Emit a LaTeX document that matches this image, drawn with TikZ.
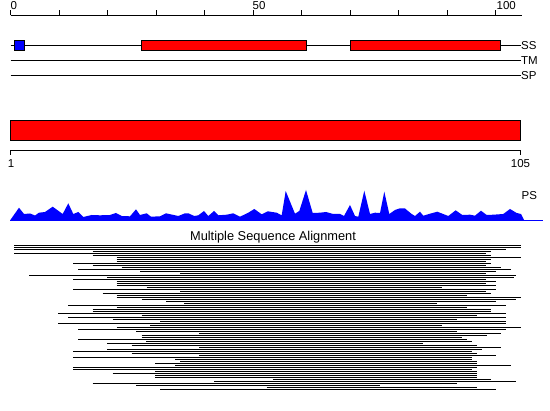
\documentclass[tikz,border=0pt]{standalone}
\usepackage{fontspec}
\setmainfont{Liberation Sans}
\begin{document}
\begin{tikzpicture}[x=1pt,y=-1pt,
  lbl/.style={font=\fontsize{11.5}{13}\selectfont, inner sep=0pt},
  ln/.style={line width=1pt, black},
  aln/.style={line width=1pt, black},
  featbox/.style={draw=black, line width=1pt}]
\useasboundingbox (0,0) rectangle (550,411);
\fill[white] (0,0) rectangle (550,411);

% top ruler
\draw[ln] (10.7,15.5) -- (521.7,15.5);
\foreach \i in {0,...,10} \draw[ln] ({10.7+48.5*\i},15.5) -- ({10.7+48.5*\i},10);
\node[lbl, anchor=base west] (t0) at (10.5,10) {0};
\node[lbl, anchor=base west] (t50) at (252.5,10) {50};
\node[lbl, anchor=base west] (t100) at (496.5,10) {100};

% SS / TM / SP tracks
\draw[ln] (10.7,45.5) -- (521,45.5);
\node[lbl, anchor=west] (ss) at (521,45.5) {SS};
\fill[blue, featbox] (14,40.5) rectangle (24.5,50.5);
\fill[red, featbox] (141.3,40.5) rectangle (306.7,50.5);
\fill[red, featbox] (350.3,40.5) rectangle (500.7,50.5);
\draw[ln] (10.7,60.5) -- (521,60.5);
\node[lbl, anchor=west] (tm) at (521,60.5) {TM};
\draw[ln] (10.7,75.5) -- (521,75.5);
\node[lbl, anchor=west] (sp) at (521,75.5) {SP};

% domain bar
\fill[red, featbox] (10.5,120.5) rectangle (520.5,140.5);
\draw[ln] (10.5,155) -- (10.5,150.5) -- (520.5,150.5) -- (520.5,155);
\node[lbl, anchor=north] (one) at (11,159.5) {1};
\node[lbl, anchor=north] (last) at (520.5,159.5) {105};

% PS profile
\fill[blue] plot coordinates {(10,220.5) (19,207.7) (24,214) (30,213.5) (35,215.5) (39,212.7) (45,212) (52.7,206.7) (62.7,214) (68.3,203.3) (73.3,214) (78.3,212) (83.3,217) (91.7,215) (100,215.3) (110,215) (116,213) (121.7,216) (130,216.3) (136,209.3) (140,215) (146.7,213.3) (151,216.7) (160,216.3) (166,213.3) (178.3,216) (185,213.3) (188.3,213.3) (194.3,216) (198.3,215.3) (204,211) (208.3,216) (214,211) (218.3,215.3) (226.7,214.7) (233.3,213.3) (240,216.7) (248.3,212.7) (254.3,209) (261.7,214.3) (267.7,211.3) (276.7,212.7) (281.7,215.3) (285.7,191) (295,213.7) (299.3,211) (306,190) (312.7,213) (320,212.7) (326,212) (333.3,214) (340,214) (344,216) (350,205) (355,216) (358.3,216.7) (364.3,190.7) (370,214) (375,212.7) (380,213) (384.3,191.7) (389.3,214) (395,210) (400,208.3) (405,208.5) (411.7,214) (415,216) (420,211.7) (423.3,215.7) (430,213.7) (437.3,211.7) (448.3,216) (455.7,210.3) (462.3,215) (470,214.7) (475,215.7) (481,210.7) (486.7,215) (493.3,214.7) (503.3,214) (510,209) (516.7,213) (521,214) (524.3,220.5)} -- cycle;
\draw[blue, line width=1pt] (10,220.5) -- (543,220.5);
\node[lbl, anchor=west] (ps) at (521.5,196) {PS};

% multiple sequence alignment
\node[lbl, font=\fontsize{12.8}{14}\selectfont, anchor=base] (msa) at (273,240.5) {Multiple Sequence Alignment};
\foreach \s/\e [count=\k from 0] in {14/520.7, 14/520.7, 14/505.7, 92.7/490.7, 14/485.7, 92.7/490.7, 116.7/520.7, 116.7/490.7, 116.7/485.7, 73.3/490.7, 92.7/485.7, 121.7/500.7, 78.3/510.7, 140/495.7, 180/485.7, 29.3/515.7, 107.3/514, 73.3/485.7, 116.7/495.7, 116.7/485.7, 116.7/495.7, 146.7/442.3, 73.3/495.7, 180/485.7, 102.7/490.7, 116.7/466.7, 116.7/520.7, 141.7/515.7, 166/495.7, 184/437.3, 68.3/505.7, 116.7/466.7, 92.7/490.7,
 92.7/490.7, 58.3/505.7, 141.7/476.7, 68.3/505.7, 112.7/456.7, 160/505.7, 58.3/505.7, 150/442.3, 116.7/520.7, 78.3/505.7, 136/456.7, 199/500.7, 141.7/486.7, 141.7/461.7, 78.3/466.7, 146/471.7, 107.3/422.7, 131.7/476.7, 199/500.7, 107.3/481.7, 73.3/471.7, 131.7/476.7, 199/495.7, 73.3/471.7, 175/471.7, 180/476.7, 155/476.7, 175/510.7, 73.3/476.7, 73.3/471.7, 155/476.7, 112.7/476.7, 155/476.7, 155/476.7, 272.7/490.7, 214/515.7, 92.7/456.7, 136/380, 266.7/476.7, 160/495.7}
  \draw[aln] (\s,{245.5+2*\k}) -- (\e,{245.5+2*\k});
\end{tikzpicture}
\end{document}
